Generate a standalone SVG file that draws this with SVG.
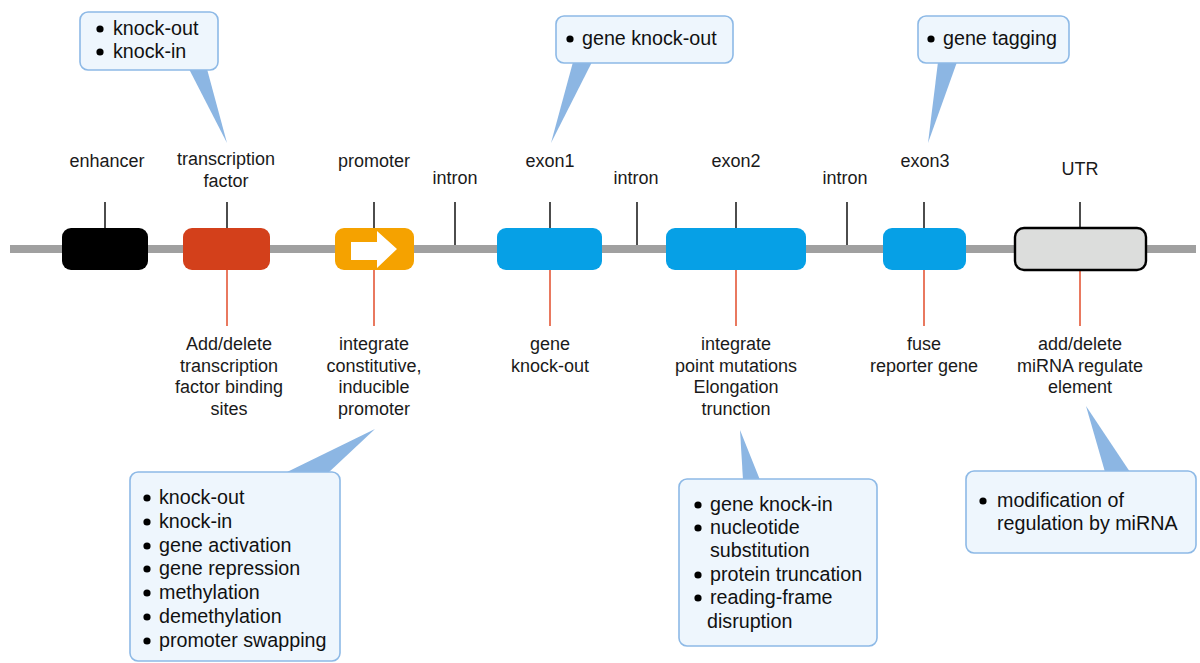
<svg xmlns="http://www.w3.org/2000/svg" width="1200" height="663" viewBox="0 0 1200 663">
  <style>
    .lbl { font-family: "Liberation Sans", Arial, sans-serif; font-size: 18px; fill: #1a1a1a; text-anchor: middle; }
    .note { font-family: "Liberation Sans", Arial, sans-serif; font-size: 19.7px; fill: #111; }
    .box { fill: #EEF6FD; stroke: #8DB9E6; stroke-width: 1.6; }
    .tail { fill: #8CB6E3; }
    .dot { fill: #000; }
    .tick { stroke: #000; stroke-width: 1.4; }
    .red { stroke: #E0401C; stroke-width: 1.4; }
  </style>
  <rect width="1200" height="663" fill="#fff"/>

  <!-- backbone strand -->
  <rect id="strand" x="10" y="245" width="1186" height="8" fill="#A0A0A0"/>

  <!-- connectors: marker ticks above and annotation lines below -->
  <g id="connectors">
    <line class="tick" x1="105" y1="202" x2="105" y2="229"/>
    <line class="tick" x1="227" y1="202" x2="227" y2="229"/>
    <line class="tick" x1="374" y1="202" x2="374" y2="229"/>
    <line class="tick" x1="455" y1="202" x2="455" y2="245"/>
    <line class="tick" x1="550" y1="202" x2="550" y2="229"/>
    <line class="tick" x1="637" y1="202" x2="637" y2="245"/>
    <line class="tick" x1="736" y1="202" x2="736" y2="229"/>
    <line class="tick" x1="847" y1="202" x2="847" y2="245"/>
    <line class="tick" x1="924" y1="202" x2="924" y2="229"/>
    <line class="tick" x1="1080" y1="202" x2="1080" y2="229"/>
    <line class="red" x1="227" y1="270" x2="227" y2="326"/>
    <line class="red" x1="374" y1="270" x2="374" y2="326"/>
    <line class="red" x1="550" y1="270" x2="550" y2="326"/>
    <line class="red" x1="736" y1="270" x2="736" y2="326"/>
    <line class="red" x1="924" y1="270" x2="924" y2="326"/>
    <line class="red" x1="1080" y1="270" x2="1080" y2="326"/>
  </g>

  <!-- gene elements -->
  <g id="enhancer">
    <rect x="62" y="228" width="86" height="42" rx="9" fill="#000"/>
    <text class="lbl" x="107" y="167">enhancer</text>
  </g>
  <g id="tf">
    <rect x="183" y="228" width="87" height="42" rx="9" fill="#D3401B"/>
    <text class="lbl" x="226" y="165">transcription</text>
    <text class="lbl" x="226" y="187">factor</text>
    <text class="lbl" x="229" y="350">Add/delete</text>
    <text class="lbl" x="229" y="372">transcription</text>
    <text class="lbl" x="229" y="393">factor binding</text>
    <text class="lbl" x="229" y="415">sites</text>
  </g>
  <g id="promoter">
    <rect x="335" y="228" width="79" height="42" rx="9" fill="#F5A200"/>
    <polygon points="351,242 377,242 377,231 397,249 377,268 377,260 351,260" fill="#fff"/>
    <text class="lbl" x="374" y="167">promoter</text>
    <text class="lbl" x="374" y="350">integrate</text>
    <text class="lbl" x="374" y="372">constitutive,</text>
    <text class="lbl" x="374" y="393">inducible</text>
    <text class="lbl" x="374" y="415">promoter</text>
  </g>
  <g id="intron1">
    <text class="lbl" x="455" y="184">intron</text>
  </g>
  <g id="exon1">
    <rect x="497" y="228" width="105" height="42" rx="9" fill="#06A0E6"/>
    <text class="lbl" x="550" y="167">exon1</text>
    <text class="lbl" x="550" y="350">gene</text>
    <text class="lbl" x="550" y="372">knock-out</text>
  </g>
  <g id="intron2">
    <text class="lbl" x="636" y="184">intron</text>
  </g>
  <g id="exon2">
    <rect x="666" y="228" width="140" height="42" rx="9" fill="#06A0E6"/>
    <text class="lbl" x="736" y="167">exon2</text>
    <text class="lbl" x="736" y="350">integrate</text>
    <text class="lbl" x="736" y="372">point mutations</text>
    <text class="lbl" x="736" y="393">Elongation</text>
    <text class="lbl" x="736" y="415">trunction</text>
  </g>
  <g id="intron3">
    <text class="lbl" x="845" y="184">intron</text>
  </g>
  <g id="exon3">
    <rect x="883" y="228" width="83" height="42" rx="9" fill="#06A0E6"/>
    <text class="lbl" x="925" y="167">exon3</text>
    <text class="lbl" x="924" y="350">fuse</text>
    <text class="lbl" x="924" y="372">reporter gene</text>
  </g>
  <g id="utr">
    <rect x="1015" y="228" width="131" height="42" rx="9" fill="#DCDDDC" stroke="#000" stroke-width="2.4"/>
    <text class="lbl" x="1080" y="175">UTR</text>
    <text class="lbl" x="1080" y="350">add/delete</text>
    <text class="lbl" x="1080" y="372">miRNA regulate</text>
    <text class="lbl" x="1080" y="393">element</text>
  </g>

  <!-- callouts -->
  <g id="callout-tf">
    <polygon class="tail" points="189,69 207,69 227,143"/>
    <rect class="box" x="80" y="12" width="138" height="58" rx="8"/>
    <circle class="dot" cx="100" cy="29" r="3.6"/>
    <text class="note" x="113" y="35">knock-out</text>
    <circle class="dot" cx="100" cy="52" r="3.6"/>
    <text class="note" x="113" y="58">knock-in</text>
  </g>
  <g id="callout-exon1">
    <polygon class="tail" points="573,62 592,62 551,143"/>
    <rect class="box" x="556" y="16" width="177" height="47" rx="8"/>
    <circle class="dot" cx="570" cy="39" r="3.6"/>
    <text class="note" x="582" y="45">gene knock-out</text>
  </g>
  <g id="callout-exon3">
    <polygon class="tail" points="938,62 957,62 928,143"/>
    <rect class="box" x="918" y="16" width="151" height="47" rx="8"/>
    <circle class="dot" cx="931" cy="39" r="3.6"/>
    <text class="note" x="943" y="45">gene tagging</text>
  </g>
  <g id="callout-promoter">
    <polygon class="tail" points="285,473 328,473 375,429"/>
    <rect class="box" x="130" y="472" width="210" height="189" rx="8"/>
    <circle class="dot" cx="147" cy="498" r="3.6"/>
    <text class="note" x="159" y="504">knock-out</text>
    <circle class="dot" cx="147" cy="522" r="3.6"/>
    <text class="note" x="159" y="528">knock-in</text>
    <circle class="dot" cx="147" cy="546" r="3.6"/>
    <text class="note" x="159" y="552">gene activation</text>
    <circle class="dot" cx="147" cy="569" r="3.6"/>
    <text class="note" x="159" y="575">gene repression</text>
    <circle class="dot" cx="147" cy="593" r="3.6"/>
    <text class="note" x="159" y="599">methylation</text>
    <circle class="dot" cx="147" cy="617" r="3.6"/>
    <text class="note" x="159" y="623">demethylation</text>
    <circle class="dot" cx="147" cy="641" r="3.6"/>
    <text class="note" x="159" y="647">promoter swapping</text>
  </g>
  <g id="callout-exon2">
    <polygon class="tail" points="743,480 760,480 740,430"/>
    <rect class="box" x="679" y="479" width="198" height="167" rx="8"/>
    <circle class="dot" cx="698" cy="505" r="3.6"/>
    <text class="note" x="710" y="511">gene knock-in</text>
    <circle class="dot" cx="698" cy="528" r="3.6"/>
    <text class="note" x="710" y="534">nucleotide</text>
    <text class="note" x="710" y="557">substitution</text>
    <circle class="dot" cx="698" cy="575" r="3.6"/>
    <text class="note" x="710" y="581">protein truncation</text>
    <circle class="dot" cx="698" cy="598" r="3.6"/>
    <text class="note" x="710" y="604">reading-frame</text>
    <text class="note" x="707" y="628">disruption</text>
  </g>
  <g id="callout-utr">
    <polygon class="tail" points="1105,472 1130,472 1086,406"/>
    <rect class="box" x="966" y="471" width="230" height="82" rx="8"/>
    <circle class="dot" cx="983" cy="501" r="3.6"/>
    <text class="note" x="997" y="507">modification of</text>
    <text class="note" x="997" y="530">regulation by miRNA</text>
  </g>
</svg>
